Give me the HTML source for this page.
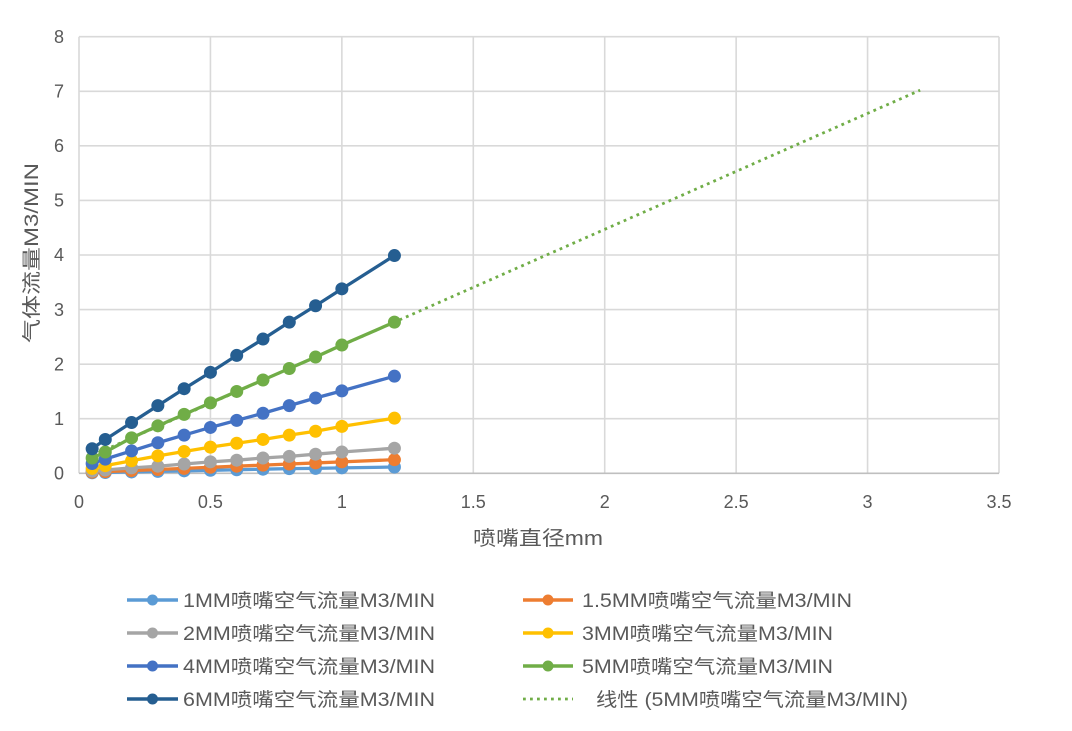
<!DOCTYPE html>
<html>
<head>
<meta charset="utf-8">
<style>
html,body{margin:0;padding:0;background:#fff;}
svg{display:block;}
text{font-family:"Liberation Sans","Noto Sans CJK SC",sans-serif;fill:#595959;}
</style>
</head>
<body>
<svg width="1072" height="731" viewBox="0 0 1072 731" xmlns="http://www.w3.org/2000/svg">
<defs>
<marker id="m1" markerUnits="userSpaceOnUse" markerWidth="16" markerHeight="16" refX="8" refY="8"><circle cx="8" cy="8" r="6.5" fill="#5B9BD5"/></marker>
<marker id="m15" markerUnits="userSpaceOnUse" markerWidth="16" markerHeight="16" refX="8" refY="8"><circle cx="8" cy="8" r="6.5" fill="#ED7D31"/></marker>
<marker id="m2" markerUnits="userSpaceOnUse" markerWidth="16" markerHeight="16" refX="8" refY="8"><circle cx="8" cy="8" r="6.5" fill="#A5A5A5"/></marker>
<marker id="m3" markerUnits="userSpaceOnUse" markerWidth="16" markerHeight="16" refX="8" refY="8"><circle cx="8" cy="8" r="6.5" fill="#FFC000"/></marker>
<marker id="m4" markerUnits="userSpaceOnUse" markerWidth="16" markerHeight="16" refX="8" refY="8"><circle cx="8" cy="8" r="6.5" fill="#4472C4"/></marker>
<marker id="m5" markerUnits="userSpaceOnUse" markerWidth="16" markerHeight="16" refX="8" refY="8"><circle cx="8" cy="8" r="6.5" fill="#70AD47"/></marker>
<marker id="m6" markerUnits="userSpaceOnUse" markerWidth="16" markerHeight="16" refX="8" refY="8"><circle cx="8" cy="8" r="6.5" fill="#255E91"/></marker>
</defs>

<!-- gridlines -->
<g stroke="#d9d9d9" stroke-width="1.6" fill="none">
<line x1="79" y1="418.73" x2="999" y2="418.73"/>
<line x1="79" y1="364.15" x2="999" y2="364.15"/>
<line x1="79" y1="309.58" x2="999" y2="309.58"/>
<line x1="79" y1="255.0" x2="999" y2="255.0"/>
<line x1="79" y1="200.43" x2="999" y2="200.43"/>
<line x1="79" y1="145.85" x2="999" y2="145.85"/>
<line x1="79" y1="91.28" x2="999" y2="91.28"/>
<line x1="79" y1="36.7" x2="999" y2="36.7"/>
<line x1="79" y1="36.7" x2="79" y2="473.3"/>
<line x1="210.43" y1="36.7" x2="210.43" y2="473.3"/>
<line x1="341.86" y1="36.7" x2="341.86" y2="473.3"/>
<line x1="473.29" y1="36.7" x2="473.29" y2="473.3"/>
<line x1="604.71" y1="36.7" x2="604.71" y2="473.3"/>
<line x1="736.14" y1="36.7" x2="736.14" y2="473.3"/>
<line x1="867.57" y1="36.7" x2="867.57" y2="473.3"/>
<line x1="999" y1="36.7" x2="999" y2="473.3"/>
</g>
<line x1="79" y1="473.3" x2="999" y2="473.3" stroke="#bfbfbf" stroke-width="1.6"/>

<!-- y tick labels -->
<g font-size="18" text-anchor="end">
<text x="64" y="479.5">0</text>
<text x="64" y="424.9">1</text>
<text x="64" y="370.3">2</text>
<text x="64" y="315.8">3</text>
<text x="64" y="261.2">4</text>
<text x="64" y="206.6">5</text>
<text x="64" y="152.0">6</text>
<text x="64" y="97.5">7</text>
<text x="64" y="42.9">8</text>
</g>
<!-- x tick labels -->
<g font-size="18" text-anchor="middle">
<text x="79" y="508">0</text>
<text x="210.43" y="508">0.5</text>
<text x="341.86" y="508">1</text>
<text x="473.29" y="508">1.5</text>
<text x="604.71" y="508">2</text>
<text x="736.14" y="508">2.5</text>
<text x="867.57" y="508">3</text>
<text x="999" y="508">3.5</text>
</g>

<!-- axis titles -->
<text x="473" y="545" font-size="20" textLength="130" lengthAdjust="spacingAndGlyphs">喷嘴直径mm</text>
<text transform="translate(38,343) rotate(-90)" font-size="19" textLength="180" lengthAdjust="spacingAndGlyphs">气体流量M3/MIN</text>

<!-- trendline -->
<line x1="92.14" y1="455.5" x2="920.14" y2="90.2" stroke="#70AD47" stroke-width="2.8" stroke-dasharray="2.8 4.2"/>

<!-- series -->
<g fill="none" stroke-width="3.3" stroke-linejoin="round" stroke-linecap="round">
<polyline stroke="#5B9BD5" marker-start="url(#m1)" marker-mid="url(#m1)" marker-end="url(#m1)" points="92.14,472.75 105.29,472.48 131.57,471.94 157.86,471.39 184.14,470.84 210.43,470.30 236.71,469.75 263.0,469.21 289.29,468.66 315.57,468.39 341.86,467.84 394.43,467.02"/>
<polyline stroke="#ED7D31" marker-start="url(#m15)" marker-mid="url(#m15)" marker-end="url(#m15)" points="92.14,472.21 105.29,471.66 131.57,470.57 157.86,469.48 184.14,468.39 210.43,467.30 236.71,466.21 263.0,465.11 289.29,464.02 315.57,462.93 341.86,461.84 394.43,459.66"/>
<polyline stroke="#A5A5A5" marker-start="url(#m2)" marker-mid="url(#m2)" marker-end="url(#m2)" points="92.14,471.12 105.29,470.03 131.57,467.84 157.86,466.21 184.14,464.02 210.43,461.84 236.71,460.20 263.0,458.02 289.29,456.38 315.57,454.20 341.86,452.02 394.43,448.20"/>
<polyline stroke="#FFC000" marker-start="url(#m3)" marker-mid="url(#m3)" marker-end="url(#m3)" points="92.14,468.39 105.29,465.66 131.57,460.75 157.86,455.84 184.14,451.47 210.43,447.10 236.71,443.28 263.0,439.46 289.29,435.10 315.57,431.28 341.86,426.37 394.43,418.18"/>
<polyline stroke="#4472C4" marker-start="url(#m4)" marker-mid="url(#m4)" marker-end="url(#m4)" points="92.14,463.48 105.29,459.11 131.57,450.92 157.86,442.74 184.14,435.10 210.43,427.46 236.71,420.36 263.0,413.27 289.29,405.63 315.57,397.99 341.86,390.89 394.43,376.16"/>
<polyline stroke="#70AD47" marker-start="url(#m5)" marker-mid="url(#m5)" marker-end="url(#m5)" points="92.14,458.02 105.29,452.02 131.57,437.83 157.86,425.82 184.14,414.36 210.43,402.90 236.71,391.44 263.0,379.98 289.29,368.52 315.57,357.06 341.86,345.05 394.43,322.13"/>
<polyline stroke="#255E91" marker-start="url(#m6)" marker-mid="url(#m6)" marker-end="url(#m6)" points="92.14,448.74 105.29,439.46 131.57,422.55 157.86,405.63 184.14,388.71 210.43,372.34 236.71,355.42 263.0,339.05 289.29,322.13 315.57,305.75 341.86,288.84 394.43,255.54"/>
</g>

<!-- legend -->
<g stroke-width="3.5">
<line x1="127" y1="600" x2="178" y2="600" stroke="#5B9BD5"/><circle cx="152.5" cy="600" r="5.5" fill="#5B9BD5"/>
<line x1="127" y1="633" x2="178" y2="633" stroke="#A5A5A5"/><circle cx="152.5" cy="633" r="5.5" fill="#A5A5A5"/>
<line x1="127" y1="666" x2="178" y2="666" stroke="#4472C4"/><circle cx="152.5" cy="666" r="5.5" fill="#4472C4"/>
<line x1="127" y1="699" x2="178" y2="699" stroke="#255E91"/><circle cx="152.5" cy="699" r="5.5" fill="#255E91"/>
<line x1="523" y1="600" x2="573" y2="600" stroke="#ED7D31"/><circle cx="548" cy="600" r="5.5" fill="#ED7D31"/>
<line x1="523" y1="633" x2="573" y2="633" stroke="#FFC000"/><circle cx="548" cy="633" r="5.5" fill="#FFC000"/>
<line x1="523" y1="666" x2="573" y2="666" stroke="#70AD47"/><circle cx="548" cy="666" r="5.5" fill="#70AD47"/>
<line x1="523" y1="699" x2="573" y2="699" stroke="#70AD47" stroke-width="2.8" stroke-dasharray="2.8 4.2"/>
</g>
<g font-size="19">
<text x="183" y="607" textLength="252" lengthAdjust="spacingAndGlyphs">1MM喷嘴空气流量M3/MIN</text>
<text x="183" y="640" textLength="252" lengthAdjust="spacingAndGlyphs">2MM喷嘴空气流量M3/MIN</text>
<text x="183" y="673" textLength="252" lengthAdjust="spacingAndGlyphs">4MM喷嘴空气流量M3/MIN</text>
<text x="183" y="706" textLength="252" lengthAdjust="spacingAndGlyphs">6MM喷嘴空气流量M3/MIN</text>
<text x="582" y="607" textLength="270" lengthAdjust="spacingAndGlyphs">1.5MM喷嘴空气流量M3/MIN</text>
<text x="582" y="640" textLength="251" lengthAdjust="spacingAndGlyphs">3MM喷嘴空气流量M3/MIN</text>
<text x="582" y="673" textLength="251" lengthAdjust="spacingAndGlyphs">5MM喷嘴空气流量M3/MIN</text>
<text x="596" y="706" textLength="312" lengthAdjust="spacingAndGlyphs">线性 (5MM喷嘴空气流量M3/MIN)</text>
</g>
</svg>
</body>
</html>
